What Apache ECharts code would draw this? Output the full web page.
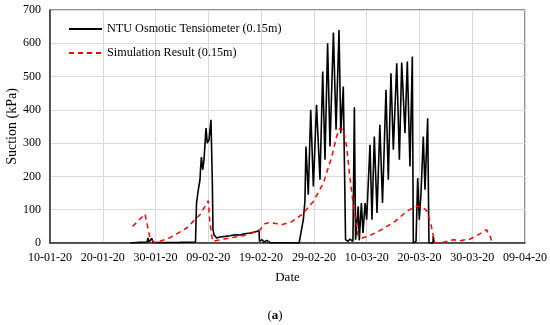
<!DOCTYPE html>
<html>
<head>
<meta charset="utf-8">
<script src="https://cdn.jsdelivr.net/npm/echarts@6/dist/echarts.min.js"></script>
<style>html,body{margin:0;padding:0;background:#fff}#c{width:550px;height:325px}</style>
</head>
<body>
<div id="c"></div>
<script>
// x values: days since 10-01-2020
var xTickLabels = ['10-01-20','20-01-20','30-01-20','09-02-20','19-02-20','29-02-20','10-03-20','20-03-20','30-03-20','09-04-20'];

var ntuDays = [15.2,17.05,18.4,18.57,18.76,19.3,19.5,20.8,24.6,27.57,27.76,28.1,28.42,28.55,28.7,28.93,29.18,29.56,29.8,30.13,30.5,30.75,30.88,31.07,31.58,
  32.2,33.2,34.1,35.05,36.0,36.9,37.9,38.8,39.6,39.7,40.2,40.5,41.1,41.7,47.2,47.37,48.0,48.3,48.5,48.94,49.4,49.9,50.5,51.16,51.67,52.1,52.6,53.05,53.7,54.2,54.76,55.1,55.57,56.0,56.46,56.84,57.4,57.67,57.9,
  58.4,58.6,59.0,59.3,59.7,60.0,60.63,61.0,61.45,61.96,62.5,63.0,63.66,64.1,64.6,65.05,65.7,66.2,66.64,67.26,67.7,68.2,68.65,68.84,69.35,69.67,69.97,70.3,70.73,71.05,71.56,71.8,72.57,72.6,72.8];
var ntuValues = [0,2,3,15,3,14,2,1,2,3,120,160,190,229,258,220,250,345,300,310,370,190,40,25,15,
  18,20,22,25,24,28,30,33,37,5,10,3,8,1,0,5,70,125,290,145,400,170,415,190,515,250,600,290,632,340,640,330,470,10,5,12,5,408,10,
  110,8,120,30,120,70,295,70,320,90,355,120,460,190,510,280,540,250,542,330,545,230,560,0,5,195,70,150,320,160,375,0,0,20,0];

var simDays = [15.67,18.0,18.95,19.9,22.74,25.9,28.42,30.0,30.3,30.83,31.8,34.1,36.6,38.3,39.8,40.7,41.7,43.0,43.9,45.8,47.7,49.9,51.8,53.4,54.3,54.9,55.6,56.2,56.8,57.5,58.1,58.4,59.1,60.3,62.8,65.4,67.6,69.2,70.4,71.4,72.2,72.9,73.9,76.4,77.7,79.6,81.2,82.7,83.4,83.7];
var simValues = [50,87,15,0,16,45,85,127,60,5,8,15,22,30,40,58,62,58,55,64,85,125,180,260,320,345,340,290,200,110,50,20,15,20,40,65,95,110,110,97,55,0,0,10,7,12,25,40,20,5];

function pairs(xs, ys){ var out=[]; for (var i=0;i<xs.length;i++) out.push([xs[i], ys[i]]); return out; }

var font = 'Liberation Serif';
var chart = echarts.init(document.getElementById('c'), null, {renderer:'canvas'});
chart.setOption({
  animation: false,
  backgroundColor: '#fff',
  textStyle: {fontFamily: font},
  grid: {left: 50, right: 25, top: 10, bottom: 82, show: true, borderColor: '#222', borderWidth: 1, containLabel: false, outerBoundsMode: 'none'},
  legend: {
    orient: 'vertical', left: 68, top: 23, padding: 0, itemWidth: 33, itemHeight: 14, itemGap: 12,
    itemStyle: {opacity: 0},
    textStyle: {fontFamily: font, fontSize: 12.2, color: '#000', padding: [0,0,0,0]},
    data: ['NTU Osmotic Tensiometer (0.15m)', 'Simulation Result (0.15m)']
  },
  xAxis: {
    type: 'value', min: 0, max: 90, interval: 10,
    name: 'Date', nameLocation: 'middle', nameGap: 28, nameMoveOverlap: false,
    nameTextStyle: {fontFamily: font, fontSize: 13, color: '#000'},
    axisLine: {show: true, onZero: false, lineStyle: {color: '#333', width: 1.5}},
    axisTick: {show: false},
    axisLabel: {fontFamily: font, fontSize: 12, color: '#000', margin: 9,
      formatter: function(v){ return xTickLabels[Math.round(v/10)] || ''; }},
    splitLine: {show: true, lineStyle: {color: '#d9d9d9', width: 1}}
  },
  yAxis: {
    type: 'value', min: 0, max: 700, interval: 100,
    name: 'Suction (kPa)', nameLocation: 'middle', nameGap: 31, nameMoveOverlap: false,
    nameTextStyle: {fontFamily: font, fontSize: 14, color: '#000'},
    axisLine: {show: true, lineStyle: {color: '#333', width: 1.5}},
    axisTick: {show: false},
    axisLabel: {fontFamily: font, fontSize: 12, color: '#000', margin: 9},
    splitLine: {show: true, lineStyle: {color: '#d9d9d9', width: 1}}
  },
  title: {
    text: '({a|a})', left: 'center', top: 304,
    textStyle: {fontFamily: font, fontSize: 13, fontWeight: 'normal', color: '#000',
      rich: {a: {fontFamily: font, fontSize: 13, fontWeight: 'bold', color: '#000'}}}
  },
  series: [
    {
      name: 'NTU Osmotic Tensiometer (0.15m)', type: 'line', showSymbol: false, symbol: 'none',
      data: pairs(ntuDays, ntuValues), z: 2,
      lineStyle: {color: '#000', width: 1.6}, itemStyle: {color: '#000'}
    },
    {
      name: 'Simulation Result (0.15m)', type: 'line', showSymbol: false, symbol: 'none',
      data: pairs(simDays, simValues), z: 3,
      lineStyle: {color: '#ff0000', width: 1.5, type: [5, 4]}, itemStyle: {color: '#ff0000'}
    }
  ]
});
</script>
</body>
</html>
